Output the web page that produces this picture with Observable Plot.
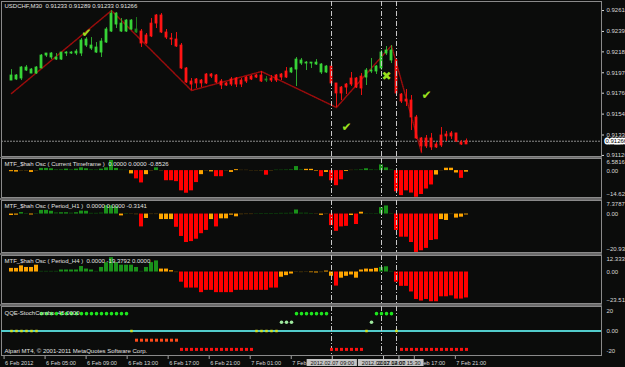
<!DOCTYPE html>
<html><head><meta charset="utf-8">
<script src="https://cdn.jsdelivr.net/npm/d3@7"></script>
<script src="https://cdn.jsdelivr.net/npm/@observablehq/plot@0.6"></script>
<style>
html,body{margin:0;padding:0;background:#0b0c0b;}
#chart{position:relative;width:625px;height:367px;overflow:hidden;background:#0b0c0b;}
#chart svg{position:absolute;left:0;overflow:visible;}
.sep{position:absolute;left:0;width:602px;background:#6a6a6a;}
</style></head><body><div id="chart"></div>
<script>
// ---------- DATA ----------
const symbolTitle = "USDCHF,M30  0.91233 0.91289 0.91233 0.91266";
const bidPrice = 0.91266;
const priceTicks = [0.92610, 0.92395, 0.92185, 0.91970, 0.91760, 0.91545, 0.91330, 0.91120];

const open = [
.91890,.91901,.91911,.91993,.91962,.91962,.92014,.92147,.92127,.92106,
.92106,.92168,.92168,.92168,.92168,.92250,.92219,.92178,.92178,.92281,
.92394,.92466,.92394,.92394,.92415,.92384,.92394,.92353,.92476,.92559,
.92559,.92384,.92322,.92312,.92250,.92014,.91880,.91901,.91890,.91952,
.91952,.91942,.91880,.91860,.91901,.91911,.91890,.91921,.91931,.91942,
.91942,.91890,.91911,.91942,.91952,.91983,.91973,.92003,.92065,.92065,
.92065,.92055,.91973,.91973,.92034,.91860,.91818,.91849,.91911,.91911,
.91931,.91921,.91983,.91983,.92014,.92168,.92096,.92096,.91746,.91695,
.91685,.91510,.91294,.91294,.91294,.91232,.91325,.91335,.91346,.91346,
.91253,.91233];
const high = [
.92003,.91952,.92034,.92045,.92014,.92034,.92158,.92168,.92178,.92168,
.92178,.92188,.92188,.92209,.92322,.92332,.92332,.92281,.92322,.92435,
.92610,.92589,.92528,.92517,.92517,.92538,.92415,.92374,.92528,.92569,
.92579,.92415,.92374,.92384,.92271,.92024,.91911,.91911,.91901,.91962,
.91962,.91952,.91901,.91870,.91921,.91921,.91911,.91931,.91942,.91952,
.91983,.91931,.91942,.91952,.91962,.92024,.92024,.92127,.92117,.92086,
.92075,.92106,.92065,.92045,.92045,.91860,.91829,.91860,.91973,.91921,
.91962,.92014,.92117,.92045,.92199,.92240,.92250,.92106,.91757,.91798,
.91736,.91531,.91304,.91325,.91346,.91253,.91407,.91366,.91366,.91346,
.91274,.91289];
const low = [
.91890,.91890,.91890,.91983,.91962,.91952,.92014,.92127,.92106,.92096,
.92096,.92137,.92158,.92147,.92137,.92230,.92199,.92168,.92127,.92271,
.92384,.92425,.92384,.92384,.92404,.92374,.92230,.92260,.92332,.92425,
.92374,.92312,.92250,.92230,.92003,.91860,.91788,.91808,.91818,.91849,
.91911,.91860,.91798,.91829,.91829,.91818,.91818,.91860,.91890,.91911,
.91870,.91870,.91870,.91870,.91890,.91911,.91962,.91829,.92045,.91993,
.92014,.92045,.91952,.91962,.91849,.91613,.91685,.91746,.91829,.91808,
.91736,.91839,.91962,.91952,.91993,.92147,.92065,.91736,.91654,.91623,
.91376,.91284,.91150,.91191,.91171,.91191,.91202,.91263,.91284,.91253,
.91222,.91233];
const close = [
.91942,.91942,.92024,.92024,.92003,.92024,.92147,.92168,.92168,.92127,
.92178,.92178,.92178,.92188,.92302,.92312,.92250,.92230,.92291,.92415,
.92579,.92579,.92476,.92507,.92507,.92415,.92271,.92271,.92343,.92476,
.92384,.92332,.92312,.92240,.92014,.91870,.91849,.91860,.91860,.91860,
.91931,.91870,.91839,.91839,.91849,.91849,.91849,.91880,.91901,.91921,
.91880,.91901,.91890,.91890,.91921,.91921,.92014,.92106,.92096,.92075,
.92075,.92075,.92055,.92034,.91860,.91757,.91757,.91818,.91849,.91818,
.91808,.91993,.91993,.92034,.92178,.92199,.92199,.91757,.91674,.91674,
.91510,.91294,.91212,.91212,.91202,.91202,.91222,.91315,.91315,.91263,
.91232,.91266];
// candle colour state per bar (G bull trend, g weak, R bear trend)
const trend = ("GGGGGGGGGGGGGGGGGGGGGGGGGg" + "RRRRRRRRRRRRRRRRRRRRRRRRR" + "g" + "RRRR" +
  "GGGGGGGG" + "RRRRRRR" + "GGGGGG" + "RRRRRRRRRRRRRRR").split("");

const zigzagBars = [0, 20, 36, 50, 65, 76, 82];
const zigzagPrices = [0.91757, 0.92610, 0.91788, 0.91983, 0.91613, 0.92250, 0.91150];

const signalBars = [15, 67, 83, 75];
const signalPrices = [0.92374, 0.91407, 0.91736, 0.91931];
const signalGlyphs = ["✔", "✔", "✔", "✖"];

const vlineBars = [64, 74, 77];
const vlineLabels = ["2012.02.07 09:00", "2012.02.07 14:00", "2012.02.07 15:30"];

const timeTickBars = [0, 8, 16, 24, 32, 40, 48, 56, 80, 88];
const timeTickLabels = ["6 Feb 2012", "6 Feb 05:00", "6 Feb 09:00", "6 Feb 13:00", "6 Feb 17:00", "6 Feb 21:00",
  "7 Feb 01:00", "7 Feb 05:00", "7 Feb 17:00", "7 Feb 21:00"];

// MTF oscillators (value, colour code)
const osc1Title = "MTF_$hah Osc ( Current Timeframe )  0.0000 0.0000 -0.8526";
const osc1Range = [-14.6218, 6.5816];
const osc1Values = [
-0.6,-0.8,-0.3,-0.3,-1.0,-0.3,1.2,1.2,1.0,0.5, 0.6,0.8,0.5,0.8,1.5,1.0,0.5,0.4,0.8,1.5,
5.5,1.2,0.3,0.2,-1.8,-4.5,-6.7,-2.2,-0.3,1.5, -0.3,-5.5,-5.5,-6.0,-11.0,-12.3,-11.0,-6.5,-2.2,-0.3,
-0.7,-3.3,-3.3,-0.3,-1.0,0.5,0.2,0.2,-0.2,-0.2, -0.3,-2.5,-0.3,0.3,0.3,0.4,0.6,2.2,0.5,0.7,
0.7,-0.3,-3.3,-1.0,-5.5,-8.2,-5.0,-0.5,0.2,0.3, 0.6,1.0,0.5,0.3,3.1,1.5,0.3,-11.5,-13.6,-11.0,
-12.2,-14.5,-13.0,-10.0,-7.8,-2.4,-0.2,1.3,1.3,-1.3, -4.2,-0.85];
const osc1Colors = ("OOooOoGGGg" + "gGgGGGggGG" + "GGggORROoG" + "oRRRRRRROo" + "ORRoOOoooo" +
  "oRoggggGgO" + "OORORRROog" + "gGggGGgRRR" + "RRRRROoOOO" + "RO").split("");

const osc2Title = "MTF_$hah Osc ( Period_H1 )  0.0000 0.0000 -0.3141";
const osc2Range = [-20.9372, 7.3787];
const osc2Values = [
-0.8,-0.6,0.8,0.3,-0.5,0.3,2.0,2.0,1.5,0.7, 0.7,0.7,0.5,0.7,1.6,1.5,0.4,0.4,0.6,4.5,
4.5,4.0,-1.0,0.3,0.2,-0.4,-7.0,-2.4,-0.3,-0.3, -3.0,-3.0,-3.0,-7.2,-12.2,-15.5,-15.0,-13.7,-10.7,-8.9,
-3.0,-7.0,-2.6,-2.6,-0.6,-1.5,-0.4,-0.3,-0.3,0.2, 0.3,0.3,0.3,0.3,0.4,0.4,0.5,2.2,0.5,0.5,
0.3,-0.2,-0.7,-0.3,-6.3,-9.4,-7.0,-6.7,-0.8,-5.7, 1.0,0.2,0.2,0.3,3.5,4.4,0.3,-8.9,-12.6,-12.6,
-15.5,-20.9,-20.0,-18.7,-14.4,-14.0,-3.0,-3.5,-0.3,-2.2, -1.7,-0.5];
const osc2Colors = ("OOGgOgGGGg" + "GGgGGGgggG" + "GGOgooROoo" + "OOORRRRRRR" + "OROOOOooog" +
  "gggggggGgg" + "goOoRRRROR" + "OgggGGgRRR" + "RRRRRROOoO" + "OO").split("");

const osc3Title = "MTF_$hah Osc ( Period_H4 )  0.0000 -19.3792 0.0000";
const osc3Range = [-23.5122, 12.3339];
const osc3Values = [
2.7,2.7,4.6,3.4,3.4,5.1,0.5,0.5,0.5,0.5, 1.5,1.5,1.5,1.5,4.1,2.2,1.5,0.5,3.4,7.0,
10.7,7.0,5.1,5.1,5.1,3.4,0.5,3.4,7.0,8.3, 2.2,2.2,1.0,-0.5,-7.6,-12.0,-12.0,-12.0,-15.4,-13.7,
-13.7,-15.4,-15.4,-15.4,-15.4,-13.7,-13.7,-13.7,-13.7,-13.7, -13.7,-13.7,-12.0,-12.0,-3.9,-2.7,-1.5,-0.3,-0.5,-0.3,
-0.5,-0.7,-0.5,0.7,-3.2,-10.5,-4.6,-3.2,-2.2,-4.6, 1.5,2.2,2.0,2.7,3.4,3.9,0.5,-7.6,-10.7,-10.7,
-14.9,-20.5,-21.7,-20.5,-22.2,-22.2,-18.5,-18.5,-17.8,-20.2, -20.2,-19.38];
const osc3Colors = ("OOOOOOgggg" + "GGGGGGGgGG" + "GGGGGGgGGG" + "OOOoRRRRRR" + "RRRRRRRRRR" +
  "RRRROOOooo" + "OOoOOROOOO" + "OOOOGGgRRR" + "RRRRRRRRRR" + "RR").split("");

// QQE stoch combo state per bar and the level each state is drawn at
const qqeTitle = "QQE-StochCombo  45.0000";
const qqeState = ("YYYYYY" + "GGGGGGGGGGGGGGGGGG" + "Y" + "OOOOOOOOO" + "RRRRRRRRRRRRRRR" + "YYYYY" +
  "LLL" + "GGGGGGG" + "RRRRRRR" + "Y" + "L" + "GGGG" + "Y" + "RRRRRRRRRRRRRR").split("");
const qqeLevel = {G: 17, L: 8.5, Y: 0, O: -9, R: -18};
const qqeTicks = [20, 0, -20];
const copyright = "Alpari MT4, © 2001-2011 MetaQuotes Software Corp.";

// ---------- CHART ----------
const N_SLOTS = 117;
const chart = document.getElementById("chart");
const candles = open.map((o, i) => ({i, open: o, high: high[i], low: low[i], close: close[i], t: trend[i]}));
const bodyColor = {G: "#38d438", g: "#1f8a1f", R: "#ff1414"};
const wickColor = {G: "#2ea52e", g: "#1c7a1c", R: "#e81010"};
const oscColor = {G: "#1a921a", g: "#0e500e", O: "#ffa500", o: "#5e4208", R: "#ff0000"};
const zigzag = zigzagBars.map((b, k) => ({i: b, price: zigzagPrices[k]}));
const signals = signalBars.map((b, k) => ({i: b, price: signalPrices[k], g: signalGlyphs[k]}));
const markers = vlineBars.map((b, k) => ({i: b, label: vlineLabels[k]}));
const timeTicks = timeTickBars.map((b, k) => ({i: b, label: timeTickLabels[k]}));

const xBand = {type: "band", domain: d3.range(N_SLOTS), paddingInner: 0.55, paddingOuter: 0.275, axis: null};
const common = {
  width: 625, marginLeft: 1, marginRight: 24, marginTop: 1, marginBottom: 1,
  style: {background: "transparent", color: "#d8d8d8", fontFamily: "'Liberation Sans', Arial, sans-serif", fontSize: "6px", overflow: "visible"}
};
const vlineMark = (extra = {}) => Plot.ruleX(vlineBars, {x: d => d, stroke: "#c8c8c8", strokeDasharray: "5,2,1,2", ...extra});
const titleMark = (t, dy) => Plot.text([t], {frameAnchor: "top-left", dx: 3, dy, text: d => d, textAnchor: "start", lineAnchor: "middle", fill: "#e2e2e2"});

function place(svg, top) { svg.style.top = top + "px"; chart.appendChild(svg); }

// main price panel
place(Plot.plot({
  ...common, height: 157,
  x: xBand,
  y: {domain: [0.91109, 0.92703], axis: null},
  marks: [
    Plot.frame({stroke: "#8a8a8a"}),
    Plot.ruleY([bidPrice], {stroke: "#8c8c8c", strokeDasharray: "2,1"}),
    Plot.line(zigzag, {x: "i", y: "price", stroke: "#9a0c0c", strokeDasharray: "1,1.2"}),
    Plot.ruleX(candles, {x: "i", y1: "low", y2: "high", stroke: d => wickColor[d.t]}),
    Plot.barY(candles, {x: "i", y1: "open", y2: "close", fill: d => bodyColor[d.t], stroke: d => bodyColor[d.t], strokeWidth: 0.8}),
    vlineMark(),
    Plot.text(signals, {x: "i", y: "price", text: "g", fill: "#9ade1e", fontSize: 12, fontFamily: "DejaVu Sans"}),
    titleMark(symbolTitle, 5),
    Plot.axisY({anchor: "right", ticks: priceTicks, tickSize: 2, tickPadding: 3, tickFormat: d3.format(".5f"), fontSize: 6}),
    Plot.text([bidPrice], {y: d => d, frameAnchor: "right", dx: 4, textAnchor: "start", text: d => d3.format(".5f")(d),
      fill: "#000", stroke: "#fff", strokeWidth: 3, paintOrder: "stroke", fontSize: 6})
  ]
}), 0);

function oscPanel(values, codes, range, title, height, top) {
  const data = values.map((v, i) => ({i, v, c: codes[i] || "o"}));
  const f4 = d3.format(".4f");
  place(Plot.plot({
    ...common, height,
    x: xBand,
    y: {domain: range, axis: null},
    marks: [
      Plot.frame({stroke: "#8a8a8a"}),
      Plot.barY(data, {x: "i", y: "v", fill: d => oscColor[d.c], insetLeft: -1, insetRight: -1}),
      vlineMark(),
      titleMark(title, 6),
      Plot.text([range[1]], {y: d => d, frameAnchor: "right", dx: 5, dy: 4, textAnchor: "start", text: d => f4(d)}),
      Plot.text([0], {y: d => d, frameAnchor: "right", dx: 5, textAnchor: "start", text: () => "0.00"}),
      Plot.text([range[0]], {y: d => d, frameAnchor: "right", dx: 5, dy: -3, textAnchor: "start", text: d => f4(d)})
    ]
  }), top);
}
oscPanel(osc1Values, osc1Colors, osc1Range, osc1Title, 41, 157);
oscPanel(osc2Values, osc2Colors, osc2Range, osc2Title, 54, 199);
oscPanel(osc3Values, osc3Colors, osc3Range, osc3Title, 50, 254);

// QQE panel
const qqe = qqeState.map((s, i) => ({i, s, v: qqeLevel[s]}));
const qqeDot = (s, symbol, r, fill) => Plot.dot(qqe.filter(d => d.s === s), {x: "i", y: "v", symbol, r, fill, stroke: null});
place(Plot.plot({
  ...common, height: 51,
  x: xBand,
  y: {domain: [-24, 24], axis: null},
  marks: [
    Plot.frame({stroke: "#8a8a8a"}),
    Plot.ruleY([0], {stroke: "#52cccc", strokeWidth: 2}),
    vlineMark(),
    qqeDot("G", "circle", 1.8, "#1ee61e"),
    qqeDot("L", "circle", 1.8, "#9ee89e"),
    qqeDot("Y", "square", 1.4, "#d6e21e"),
    qqeDot("O", "square", 1.7, "#ff4a1a"),
    qqeDot("R", "square", 1.7, "#ff1010"),
    titleMark(qqeTitle, 7),
    Plot.text([copyright], {frameAnchor: "bottom-left", dx: 3, dy: -4, text: d => d, textAnchor: "start", lineAnchor: "middle", fill: "#e2e2e2"}),
    Plot.text(qqeTicks, {y: d => d, frameAnchor: "right", dx: 5, textAnchor: "start", text: d => d === 0 ? "0.00" : String(d)})
  ]
}), 305);

// time axis
place(Plot.plot({
  width: 625, height: 11, marginLeft: 1, marginRight: 24, marginTop: 0, marginBottom: 0,
  style: common.style,
  x: {domain: [-0.5, N_SLOTS - 0.5], axis: null},
  marks: [
    Plot.ruleX(timeTicks, {x: "i", insetBottom: 8, stroke: "#a0a0a0"}),
    Plot.text(timeTicks, {x: "i", text: "label", textAnchor: "start", dx: 1, dy: 1, fontSize: 5.6, fill: "#d8d8d8"}),
    vlineMark({insetBottom: 4}),
    Plot.rect(markers, {x1: d => d.i - 4.9, x2: d => d.i + 4.9, insetTop: 3, insetBottom: 1, fill: "#c4c4c4"}),
    Plot.text(markers, {x: "i", text: "label", dy: 1, fontSize: 5.6, fill: "#111"})
  ]
}), 356);

// panel splitters
[[157, 1], [198, 2], [253, 2], [304, 2]].forEach(([t, h]) => {
  const d = document.createElement("div"); d.className = "sep";
  d.style.top = t + "px"; d.style.height = h + "px"; chart.appendChild(d);
});
</script></body></html>
